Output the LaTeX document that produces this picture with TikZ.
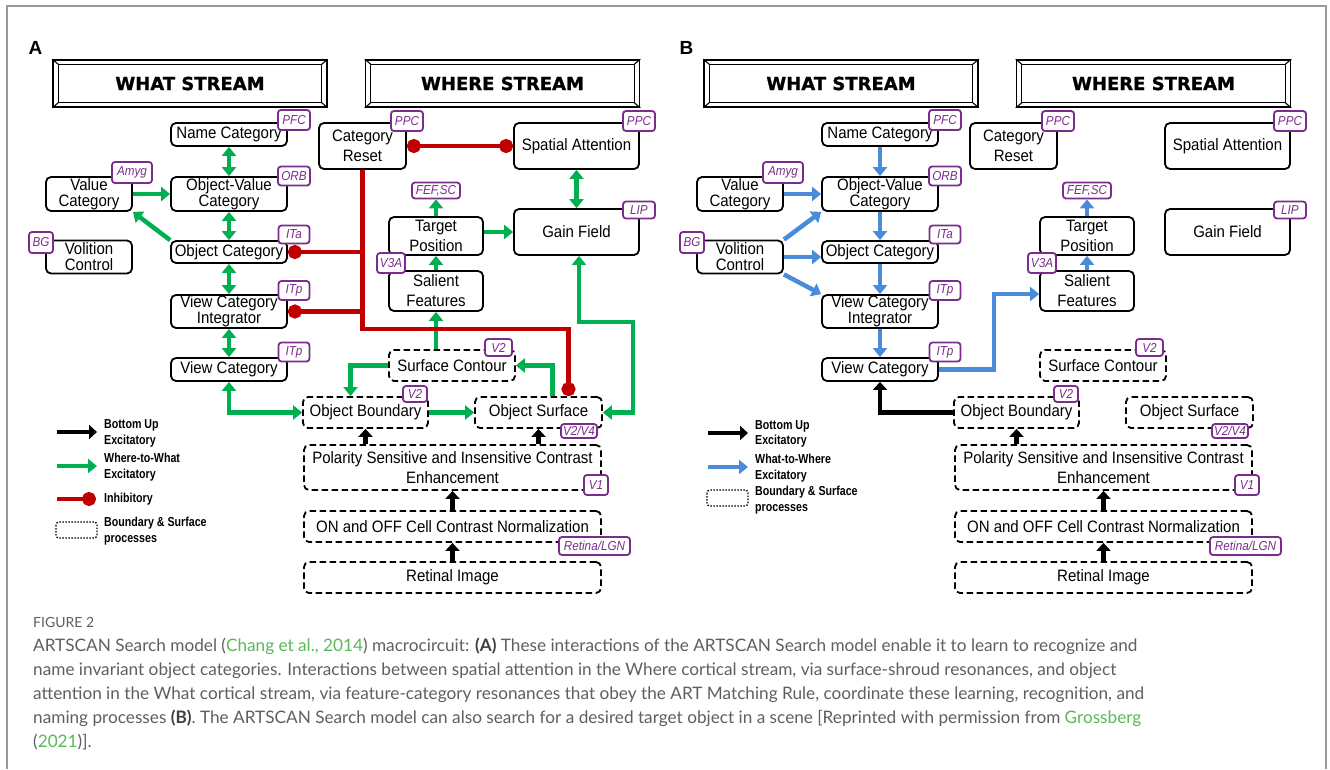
\documentclass[tikz,border=0pt]{standalone}
\usepackage{fontspec}
\setmainfont{Liberation Sans}
\newfontfamily\boxfont{Liberation Sans}[FakeStretch=0.91]
\newfontfamily\tagfont{Liberation Sans}[FakeStretch=0.9]
\newfontfamily\legfont{Liberation Sans}[FakeStretch=0.82]
\newfontfamily\heavyfont{DejaVu Sans}[FakeBold=1]
\newfontfamily\capfont{Lato}
\usetikzlibrary{arrows.meta,calc}

\definecolor{exgreen}{HTML}{00B050}
\definecolor{inhred}{HTML}{C00000}
\definecolor{wblue}{HTML}{4A8BDB}
\definecolor{tagpurple}{HTML}{7B2C8C}
\definecolor{framegray}{HTML}{9A9A9A}
\definecolor{captext}{HTML}{5F5F5F}
\definecolor{capdark}{HTML}{3F3F3F}
\definecolor{linkgreen}{HTML}{5BB85B}

\newcommand\caplink[1]{{\color{linkgreen}#1}}
\newcommand\capbold[1]{{\color{capdark}\bfseries #1}}

% bevelled frame around a banner node
\newcommand\bevelframe[1]{%
  \draw[line width=1.3pt] ($(#1.north west)+(6,5)$) rectangle ($(#1.south east)+(-6,-5)$);
  \draw[line width=1.1pt] (#1.north west) -- ++(6,5) (#1.north east) -- ++(-6,5)
        (#1.south west) -- ++(6,-5) (#1.south east) -- ++(-6,-5);
}

% boxes shared by both panels
\newcommand\panelcommon[1]{%
  \node[font=\bfseries\fontsize{19}{19}\selectfont] (lbl) at (35.5,47.5) {#1};
  \node[banner] (what) at (190,83.5) {WHAT STREAM};
  \node[banner] (where) at (502.5,83.5) {WHERE STREAM};
  \bevelframe{what}\bevelframe{where}
  % What stream
  \node[box, minimum width=116pt, minimum height=23pt] (name) at (229,134.5) {Name Category};
  \node[box, minimum width=116pt, minimum height=34pt] (ov) at (229,194) {Object-Value\\Category};
  \node[box, minimum width=86pt, minimum height=34pt] (val) at (89,194) {Value\\Category};
  \node[box, minimum width=116pt, minimum height=22pt] (oc) at (229,252) {Object Category};
  \node[box, minimum width=86pt, minimum height=33pt] (vol) at (89,257) {Volition\\Control};
  \node[box, minimum width=116pt, minimum height=33pt] (vci) at (229,311.5) {View Category\\Integrator};
  \node[box, minimum width=116pt, minimum height=23pt] (vc) at (229,369.5) {View Category};
  % Where stream
  \node[box, loose, minimum width=87pt, minimum height=46pt] (cr) at (362.5,146) {Category\\Reset};
  \node[box, minimum width=125pt, minimum height=46pt] (sa) at (576.5,146) {Spatial Attention};
  \node[box, minimum width=125pt, minimum height=46pt] (gf) at (576.5,232) {Gain Field};
  \node[box, loose, minimum width=94pt, minimum height=38pt] (tp) at (436,236) {Target\\Position};
  \node[box, loose, minimum width=94pt, minimum height=40pt] (sf) at (436,291) {Salient\\Features};
  % boundary and surface processes
  \node[dbox, minimum width=126pt, minimum height=31pt] (scn) at (452,365.5) {Surface Contour};
  \node[dbox, minimum width=125pt, minimum height=31pt] (ob) at (365.5,412.5) {Object Boundary};
  \node[dbox, minimum width=127pt, minimum height=31pt] (os) at (538.5,412.5) {Object Surface};
  \node[dbox, loose, minimum width=297pt, minimum height=45pt] (pol) at (452.5,467.5) {Polarity Sensitive and Insensitive Contrast\\Enhancement};
  \node[dbox, minimum width=297pt, minimum height=31pt] (onoff) at (452.5,526.5) {ON and OFF Cell Contrast Normalization};
  \node[dbox, minimum width=297pt, minimum height=31pt] (ret) at (452.5,577.5) {Retinal Image};
  % brain area tags
  \node[tag, minimum width=32pt, minimum height=20pt] (tpfc) at (294,120) {PFC};
  \node[tag, minimum width=40pt, minimum height=21pt] (tamyg) at (132,172.5) {Amyg};
  \node[tag, minimum width=32pt, minimum height=19pt] (torb) at (294,176) {ORB};
  \node[tag, minimum width=31pt, minimum height=18pt] (tita) at (294,234.5) {ITa};
  \node[tag, minimum width=24pt, minimum height=21pt] (tbg) at (41,242.5) {BG};
  \node[tag, minimum width=31pt, minimum height=19pt] (titp) at (294,290.5) {ITp};
  \node[tag, minimum width=31pt, minimum height=19pt] (titpb) at (294,352) {ITp};
  \node[tag, minimum width=32pt, minimum height=20pt] (tppc) at (407,121) {PPC};
  \node[tag, minimum width=32pt, minimum height=20pt] (tppcb) at (639,121) {PPC};
  \node[tag, minimum width=48pt, minimum height=16pt] (fef) at (436,190.5) {FEF,SC};
  \node[tag, minimum width=32pt, minimum height=17pt] (tlip) at (639,210) {LIP};
  \node[tag, minimum width=28pt, minimum height=20pt] (tv3a) at (391,263) {V3A};
  \node[tag, minimum width=27pt, minimum height=17pt] (tvsc) at (498.5,347.5) {V2};
  \node[tag, minimum width=24pt, minimum height=16pt] (tvob) at (415,394) {V2};
  \node[tag, minimum width=36pt, minimum height=14pt] (tvos) at (579,431) {V2/V4};
  \node[tag, minimum width=24pt, minimum height=20pt] (tv1) at (596,485) {V1};
  \node[tag, minimum width=71pt, minimum height=18pt] (tlgn) at (594.5,546) {Retina/LGN};
  % bottom-up excitatory
  \draw[karr] (ret.north) -- (onoff.south);
  \draw[karr] (onoff.north) -- (pol.south);
  \draw[karr] (ob.south |- pol.north) -- (ob.south);
}

\tikzset{
  box/.style={draw, line width=1.8pt, rounded corners=5pt, fill=white, inner sep=0pt,
    align=center, font=\boxfont\fontsize{16.5}{16}\selectfont},
  loose/.style={font=\boxfont\fontsize{16.5}{20}\selectfont},
  dbox/.style={box, dash pattern=on 6.5pt off 3.5pt},
  tag/.style={draw=tagpurple, text=tagpurple, line width=1.8pt, rounded corners=3pt, fill=white,
    inner sep=0pt, inner xsep=2pt, font=\tagfont\itshape\fontsize{13}{13}\selectfont},
  banner/.style={draw, line width=1.6pt, fill=white, minimum width=274pt, minimum height=47pt,
    inner sep=0pt, font=\heavyfont\bfseries\fontsize{18}{18}\selectfont},
  garr/.style={draw=exgreen, line width=4.5pt, -{Triangle[width=14pt,length=9pt]}},
  gdbl/.style={draw=exgreen, line width=4.5pt, {Triangle[width=14pt,length=9pt]}-{Triangle[width=14pt,length=9pt]}},
  barr/.style={draw=wblue, line width=4.5pt, -{Triangle[width=14pt,length=9pt]}},
  karr/.style={draw=black, line width=4.5pt, -{Triangle[width=14pt,length=8pt]}},
  inh/.style={draw=inhred, line width=4.5pt},
  leg/.style={anchor=west, inner sep=0pt, align=left, font=\legfont\bfseries\fontsize{13}{15.5}\selectfont},
  legbox/.style={line width=1.3pt, dash pattern=on 1.5pt off 1.5pt, rounded corners=3pt},
  capline/.style={anchor=base west, inner sep=0pt, text=captext, font=\capfont\fontsize{17.2}{20}\selectfont},
}

\begin{document}
\begin{tikzpicture}[x=1pt,y=-1pt]
\useasboundingbox (0,0) rectangle (1330,769);
\fill[white] (0,0) rectangle (1330,769);
\draw[framegray, line width=2pt] (7,769) -- (7,6) -- (1326,6) -- (1326,769);

% ---------------- panel A ----------------
\begin{scope}[name prefix=a-]
  \panelcommon{A}
  \draw[karr] (os.south |- pol.north) -- (os.south);
  % where-to-what excitatory
  \draw[gdbl] (name.south) -- (ov.north);
  \draw[gdbl] (ov.south) -- (oc.north);
  \draw[gdbl] (oc.south) -- (vci.north);
  \draw[gdbl] (vci.south) -- (vc.north);
  \draw[garr] (val.east) -- (ov.west);
  \draw[garr] (oc.north west) -- (val.south east);
  \draw[gdbl] (sa.south) -- (gf.north);
  \draw[garr] (tp.east |- gf.west) -- (gf.west);
  \draw[garr] (tp.north) -- (fef.south);
  \draw[garr] (sf.north) -- (tp.south);
  \draw[garr] (sf.south |- scn.north) -- (sf.south);
  \draw[garr] (scn.west) -| ($(ob.north)+(-15,0)$);
  \draw[garr] ($(os.north)+(14,0)$) |- (scn.east);
  \draw[garr] (ob.east) -- (os.west);
  \draw[gdbl] (vc.south) |- (ob.west);
  \draw[gdbl] ($(gf.south)+(2.5,0)$) |- ($(os.east)+(30,-90.5)$) |- (os.east);
  % inhibitory
  \draw[inh, {Circle[length=14pt]}-{Circle[length=14pt]}] (cr.east) -- (sa.west);
  \draw[inh, -{Circle[length=14pt]}] (cr.south) |- ($(os.north)+(30,-67)$) -- ($(os.north)+(30,0)$);
  \draw[inh, -{Circle[length=14pt]}] (cr.south |- oc.east) -- (oc.east);
  \draw[inh, -{Circle[length=14pt]}] (cr.south |- vci.east) -- (vci.east);
  % legend
  \draw[karr] (57,432) -- (97,432);
  \node[leg] (la1) at (104,433.5) {Bottom Up\\Excitatory};
  \draw[garr] (57,466) -- (97,466);
  \node[leg] (la2) at (104,467) {Where-to-What\\Excitatory};
  \draw[inh, -{Circle[length=14pt]}] (57,499) -- (96,499);
  \node[leg] (la3) at (104,499) {Inhibitory};
  \draw[legbox] (56,522) rectangle (97,538);
  \node[leg] (la4) at (104,531) {Boundary \& Surface\\processes};
\end{scope}

% ---------------- panel B ----------------
\begin{scope}[xshift=651pt, name prefix=b-]
  \panelcommon{B}
  % what-to-where excitatory
  \draw[barr] (name.south) -- (ov.north);
  \draw[barr] (ov.south) -- (oc.north);
  \draw[barr] (oc.south) -- (vci.north);
  \draw[barr] (vci.south) -- (vc.north);
  \draw[barr] (val.east) -- (ov.west);
  \draw[barr] (vol.north east) -- (ov.south west);
  \draw[barr] (vol.east) -- (vol.east -| oc.west);
  \draw[barr] (vol.south east) -- (vci.north west);
  \draw[barr] (vc.east) -- ++(55,0) |- ($(sf.west)+(0,3)$);
  \draw[barr] (sf.north) -- (tp.south);
  \draw[barr] (tp.north) -- (fef.south);
  \draw[karr] (ob.west) -| (vc.south);
  % legend
  \draw[karr] (57,433) -- (97,433);
  \node[leg] (lb1) at (104,434) {Bottom Up\\Excitatory};
  \draw[barr] (57,467) -- (97,467);
  \node[leg] (lb2) at (104,468) {What-to-Where\\Excitatory};
  \draw[legbox] (56,490) rectangle (97,506);
  \node[leg] (lb3) at (104,500) {Boundary \& Surface\\processes};
\end{scope}

% ---------------- caption ----------------
\node[capline, font=\capfont\fontsize{14}{16}\selectfont] (fig) at (33,627) {FIGURE 2};
\node[capline] (c1) at (33,651) {ARTSCAN Search model (\caplink{Chang et al., 2014}) macrocircuit: \capbold{(A)} These interactions of the ARTSCAN Search model enable it to learn to recognize and};
\node[capline] (c2) at (33,675) {name invariant object categories. Interactions between spatial attention in the Where cortical stream, via surface-shroud resonances, and object};
\node[capline] (c3) at (33,699) {attention in the What cortical stream, via feature-category resonances that obey the ART Matching Rule, coordinate these learning, recognition, and};
\node[capline] (c4) at (33,723) {naming processes \capbold{(B)}. The ARTSCAN Search model can also search for a desired target object in a scene [Reprinted with permission from \caplink{Grossberg}};
\node[capline] (c5) at (33,747) {(\caplink{2021})].};
\end{tikzpicture}
\end{document}
